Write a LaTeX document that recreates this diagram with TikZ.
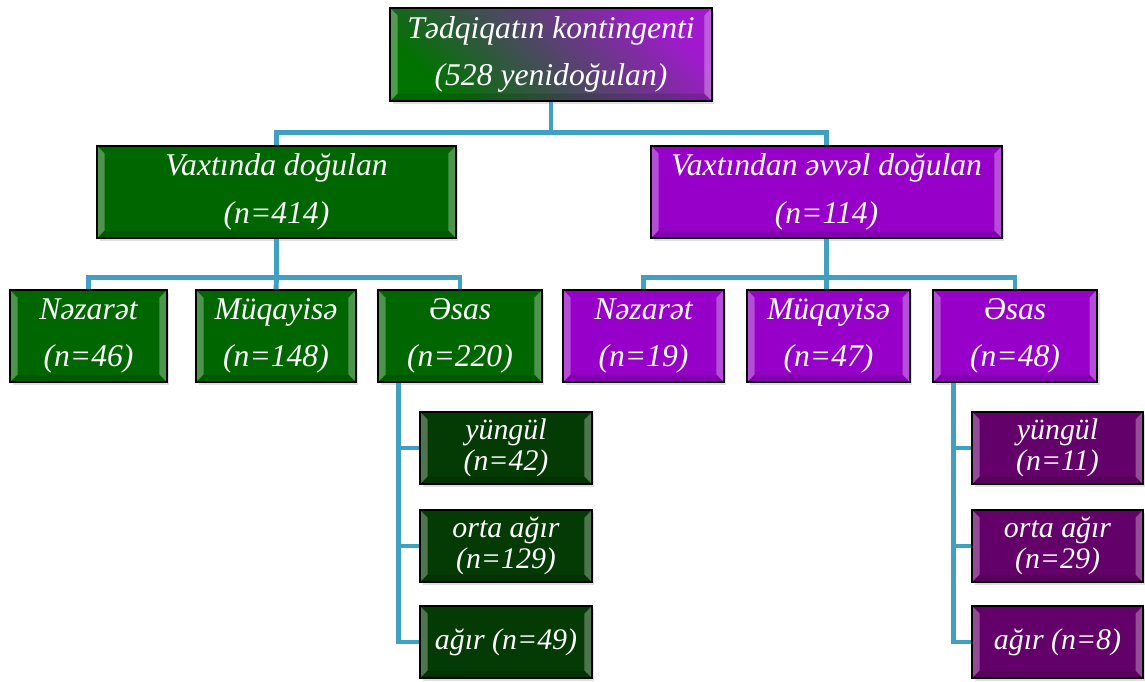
\documentclass[tikz,border=0pt]{standalone}
\usepackage{fontspec}
\setmainfont{Liberation Serif}
\usetikzlibrary{shadows}

\definecolor{termgreen}{RGB}{0,102,0}
\definecolor{subgreen}{RGB}{4,58,4}
\definecolor{earlypurple}{RGB}{150,0,200}
\definecolor{subpurple}{RGB}{100,0,105}
\definecolor{linkteal}{RGB}{64,160,192}

\tikzset{
    box/.style={draw=black, line width=0.8pt, text=white, align=center, inner sep=1pt,
        font=\fontsize{18}{27}\selectfont\itshape,
        drop shadow={shadow xshift=0.05cm, shadow yshift=-0.05cm, opacity=0.25},
        path picture={
            \fill[white, opacity=0.3] (path picture bounding box.north west)
                -- ([shift={(0.15cm,-0.15cm)}]path picture bounding box.north west)
                -- ([shift={(0.15cm,0.15cm)}]path picture bounding box.south west)
                -- (path picture bounding box.south west) -- cycle;
            \fill[white, opacity=0.3] (path picture bounding box.north east)
                -- ([shift={(-0.15cm,-0.15cm)}]path picture bounding box.north east)
                -- ([shift={(-0.15cm,0.15cm)}]path picture bounding box.south east)
                -- (path picture bounding box.south east) -- cycle;
            \fill[black, opacity=0.12] (path picture bounding box.south west)
                -- ([shift={(0.15cm,0.15cm)}]path picture bounding box.south west)
                -- ([shift={(-0.15cm,0.15cm)}]path picture bounding box.south east)
                -- (path picture bounding box.south east) -- cycle;
        }},
    rootbox/.style={box, minimum width=6.44cm, minimum height=1.86cm,
        bottom color=green!45!black, top color=earlypurple!90!white, shading angle=-45},
    termbox/.style={box, fill=termgreen, minimum height=1.84cm},
    earlybox/.style={box, fill=earlypurple, minimum height=1.84cm},
    subbox/.style={box, minimum width=3.44cm, minimum height=1.44cm,
        font=\fontsize{17}{17.5}\selectfont\itshape},
    link/.style={draw=linkteal, line width=2.8pt},
}

\begin{document}
\begin{tikzpicture}[x=0.02cm, y=-0.02cm]

    \useasboundingbox (0,0) rectangle (1145,681);

    % Root
    \node[rootbox] (root) at (551,54.5) {Tədqiqatın kontingenti\\(528 yenidoğulan)};

    % Two groups
    \node[termbox, minimum width=7.18cm] (term) at (276.5,192) {Vaxtında doğulan\\(n=414)};
    \node[earlybox, minimum width=7.02cm] (early) at (826.5,192) {Vaxtından əvvəl doğulan\\(n=114)};

    % Term subgroups
    \node[termbox, minimum width=3.14cm] (nazL) at (88.5,336) {Nəzarət\\(n=46)};
    \node[termbox, minimum width=3.2cm] (muqL) at (276,336) {Müqayisə\\(n=148)};
    \node[termbox, minimum width=3.28cm] (esasL) at (460,336) {Əsas\\(n=220)};

    % Early subgroups
    \node[earlybox, minimum width=3.22cm] (nazR) at (643.5,336) {Nəzarət\\(n=19)};
    \node[earlybox, minimum width=3.26cm] (muqR) at (828.5,336) {Müqayisə\\(n=47)};
    \node[earlybox, minimum width=3.28cm] (esasR) at (1015,336) {Əsas\\(n=48)};

    % Severity, term
    \node[subbox, fill=subgreen] (lightL) at (506,448) {yüngül\\(n=42)};
    \node[subbox, fill=subgreen] (midL) at (506,546) {orta ağır\\(n=129)};
    \node[subbox, fill=subgreen] (heavyL) at (506,642) {ağır (n=49)};

    % Severity, early
    \node[subbox, fill=subpurple, minimum width=3.42cm] (lightR) at (1057.5,448) {yüngül\\(n=11)};
    \node[subbox, fill=subpurple, minimum width=3.42cm] (midR) at (1057.5,546) {orta ağır\\(n=29)};
    \node[subbox, fill=subpurple, minimum width=3.42cm] (heavyR) at (1057.5,642) {ağır (n=8)};

    % Links
    \draw[link] (root.south) -- ++(0,-0.62cm) coordinate (bar0) -| (term.north);
    \draw[link] (bar0) -| (early.north);

    \draw[link] (term.south) -- ++(0,-0.78cm) coordinate (barL) -| (nazL.north);
    \draw[link] (barL) -| (esasL.north);
    \draw[link] (barL) -- (muqL.north);

    \draw[link] (early.south) -- ++(0,-0.78cm) coordinate (barR) -| (nazR.north);
    \draw[link] (barR) -| (esasR.north);
    \draw[link] (barR) -- (barR |- muqR.north);

    \foreach \s in {lightL,midL,heavyL}
        \draw[link] ([xshift=0.42cm]esasL.south west) |- (\s.west);
    \foreach \s in {lightR,midR,heavyR}
        \draw[link] ([xshift=0.42cm]esasR.south west) |- (\s.west);

\end{tikzpicture}
\end{document}
